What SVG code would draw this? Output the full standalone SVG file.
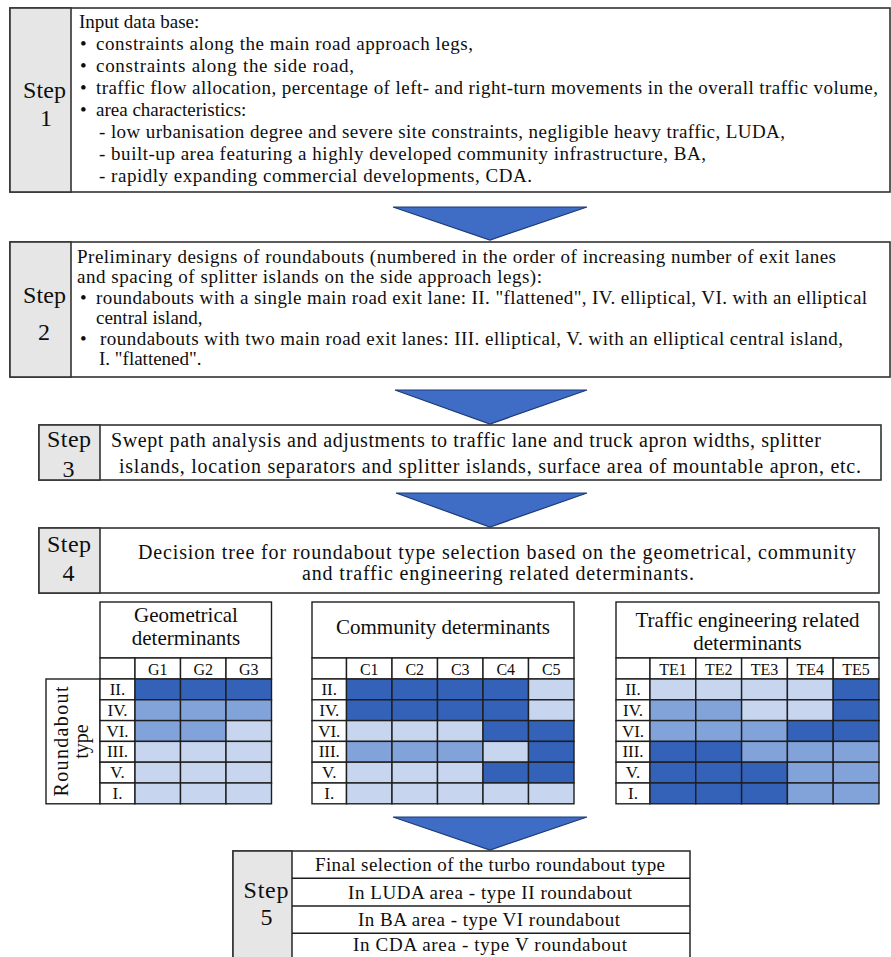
<svg xmlns="http://www.w3.org/2000/svg" width="891" height="957" viewBox="0 0 891 957">
<style>
text{font-family:"Liberation Serif","Times New Roman",serif;fill:#0e0e0e}
.box{fill:#fff;stroke:#333;stroke-width:1.6}
.lbl{fill:#e6e6e6;stroke:#333;stroke-width:1.6}
.st{font-size:24px;text-anchor:middle}
.t19{font-size:19px}
.t20{font-size:20px}
.t21{font-size:21px;text-anchor:middle}
.mid{text-anchor:middle}
.ch{font-size:16px;text-anchor:middle}
.rl{font-size:17px;text-anchor:middle}
.c{stroke:#1e1e1e;stroke-width:1.4}
.w{fill:#fff}
.d{fill:#3462B8}
.m{fill:#82A2DA}
.l{fill:#C7D5EF}
.arr{fill:#3F6CC4;stroke:#1D3A78;stroke-width:1.2;stroke-linejoin:miter}
</style>

<g id="connectors">
<polygon class="arr" points="393,207 587,207 490,240"/>
<polygon class="arr" points="395,390 587,390 490,424"/>
<polygon class="arr" points="396,493 587,493 490,527"/>
<polygon class="arr" points="393,817 587,817 490,850"/>
</g>

<g id="step1">
<rect class="box" x="10" y="8" width="880" height="184"/>
<rect class="lbl" x="10" y="8" width="61" height="184"/>
<text class="st" x="44.5" y="98" textLength="43">Step</text>
<text class="st" x="46" y="126">1</text>
<text class="t19" x="79" y="27.5">Input data base:</text>
<text class="t19" x="80" y="49.5">•</text>
<text class="t19" x="96" y="49.5" textLength="377">constraints along the main road approach legs,</text>
<text class="t19" x="80" y="71.5">•</text>
<text class="t19" x="96" y="71.5" textLength="258">constraints along the side road,</text>
<text class="t19" x="80" y="93.5">•</text>
<text class="t19" x="96" y="93.5" textLength="782">traffic flow allocation, percentage of left- and right-turn movements in the overall traffic volume,</text>
<text class="t19" x="80" y="115.5">•</text>
<text class="t19" x="96" y="115.5">area characteristics:</text>
<text class="t19" x="99" y="137.5" textLength="686">- low urbanisation degree and severe site constraints, negligible heavy traffic, LUDA,</text>
<text class="t19" x="99" y="159.5" textLength="607">- built-up area featuring a highly developed community infrastructure, BA,</text>
<text class="t19" x="99" y="181.5" textLength="433">- rapidly expanding commercial developments, CDA.</text>
</g>

<g id="step2">
<rect class="box" x="10" y="242" width="880" height="135"/>
<rect class="lbl" x="10" y="242" width="61" height="135"/>
<text class="st" x="44.5" y="303" textLength="43">Step</text>
<text class="st" x="44" y="340">2</text>
<text class="t19" x="77" y="262.5" textLength="759">Preliminary designs of roundabouts (numbered in the order of increasing number of exit lanes</text>
<text class="t19" x="77" y="283" textLength="465">and spacing of splitter islands on the side approach legs):</text>
<text class="t19" x="80" y="303.5">•</text>
<text class="t19" x="96" y="303.5" textLength="771">roundabouts with a single main road exit lane: II. "flattened", IV. elliptical, VI. with an elliptical</text>
<text class="t19" x="96" y="324">central island,</text>
<text class="t19" x="80" y="344.5">•</text>
<text class="t19" x="100" y="344.5" textLength="743">roundabouts with two main road exit lanes: III. elliptical, V. with an elliptical central island,</text>
<text class="t19" x="99" y="365">I. "flattened".</text>
</g>

<g id="step3">
<rect class="box" x="39" y="425" width="842" height="55"/>
<rect class="lbl" x="39" y="425" width="61" height="55"/>
<text class="st" x="69" y="447" textLength="44">Step</text>
<text class="st" x="68.5" y="477">3</text>
<text class="t20" x="111" y="446.5" textLength="710">Swept path analysis and adjustments to traffic lane and truck apron widths, splitter</text>
<text class="t20" x="119" y="473" textLength="742">islands, location separators and splitter islands, surface area of mountable apron, etc.</text>
</g>

<g id="step4">
<rect class="box" x="39" y="528" width="840" height="65"/>
<rect class="lbl" x="39" y="528" width="61" height="65"/>
<text class="st" x="69" y="552" textLength="44">Step</text>
<text class="st" x="68.5" y="581">4</text>
<text class="t20 mid" x="497" y="559" textLength="718">Decision tree for roundabout type selection based on the geometrical, community</text>
<text class="t20 mid" x="498" y="580" textLength="392">and traffic engineering related determinants.</text>
</g>

<g id="table-geometrical">
<rect class="c w" x="100" y="602" width="171.5" height="56"/>
<text class="t21" x="186" y="622">Geometrical</text>
<text class="t21" x="186" y="645">determinants</text>
<rect class="c w" x="100" y="658" width="35" height="21"/>
<rect class="c w" x="135" y="658" width="45.5" height="21"/>
<rect class="c w" x="180.5" y="658" width="45.5" height="21"/>
<rect class="c w" x="226" y="658" width="45.5" height="21"/>
<text class="ch" x="157.75" y="674.5">G1</text>
<text class="ch" x="203.25" y="674.5">G2</text>
<text class="ch" x="248.75" y="674.5">G3</text>
<rect class="c w" x="46" y="679" width="54" height="124.8"/>
<text class="t20 mid" transform="translate(68,741.5) rotate(-90)" textLength="110">Roundabout</text>
<text class="t20 mid" transform="translate(88,741.5) rotate(-90)">type</text>
<rect class="c w" x="100" y="679" width="35" height="20.8"/><rect class="c d" x="135" y="679" width="45.5" height="20.8"/><rect class="c d" x="180.5" y="679" width="45.5" height="20.8"/><rect class="c d" x="226" y="679" width="45.5" height="20.8"/>
<rect class="c w" x="100" y="699.8" width="35" height="20.8"/><rect class="c m" x="135" y="699.8" width="45.5" height="20.8"/><rect class="c m" x="180.5" y="699.8" width="45.5" height="20.8"/><rect class="c m" x="226" y="699.8" width="45.5" height="20.8"/>
<rect class="c w" x="100" y="720.6" width="35" height="20.8"/><rect class="c m" x="135" y="720.6" width="45.5" height="20.8"/><rect class="c m" x="180.5" y="720.6" width="45.5" height="20.8"/><rect class="c l" x="226" y="720.6" width="45.5" height="20.8"/>
<rect class="c w" x="100" y="741.4" width="35" height="20.8"/><rect class="c l" x="135" y="741.4" width="45.5" height="20.8"/><rect class="c l" x="180.5" y="741.4" width="45.5" height="20.8"/><rect class="c l" x="226" y="741.4" width="45.5" height="20.8"/>
<rect class="c w" x="100" y="762.2" width="35" height="20.8"/><rect class="c l" x="135" y="762.2" width="45.5" height="20.8"/><rect class="c l" x="180.5" y="762.2" width="45.5" height="20.8"/><rect class="c l" x="226" y="762.2" width="45.5" height="20.8"/>
<rect class="c w" x="100" y="783" width="35" height="20.8"/><rect class="c l" x="135" y="783" width="45.5" height="20.8"/><rect class="c l" x="180.5" y="783" width="45.5" height="20.8"/><rect class="c l" x="226" y="783" width="45.5" height="20.8"/>
<text class="rl" x="117.5" y="695">II.</text>
<text class="rl" x="117.5" y="715.8">IV.</text>
<text class="rl" x="117.5" y="736.6">VI.</text>
<text class="rl" x="117.5" y="757.4">III.</text>
<text class="rl" x="117.5" y="778.2">V.</text>
<text class="rl" x="117.5" y="799">I.</text>
</g>

<g id="table-community">
<rect class="c w" x="312" y="602" width="262" height="56"/>
<text class="t21" x="443" y="634">Community determinants</text>
<rect class="c w" x="312" y="658" width="34.5" height="21"/>
<rect class="c w" x="346.5" y="658" width="45.5" height="21"/>
<rect class="c w" x="392" y="658" width="45.5" height="21"/>
<rect class="c w" x="437.5" y="658" width="45.5" height="21"/>
<rect class="c w" x="483" y="658" width="45.5" height="21"/>
<rect class="c w" x="528.5" y="658" width="45.5" height="21"/>
<text class="ch" x="369.25" y="674.5">C1</text>
<text class="ch" x="414.75" y="674.5">C2</text>
<text class="ch" x="460.25" y="674.5">C3</text>
<text class="ch" x="505.75" y="674.5">C4</text>
<text class="ch" x="551.25" y="674.5">C5</text>
<rect class="c w" x="312" y="679" width="34.5" height="20.8"/><rect class="c d" x="346.5" y="679" width="45.5" height="20.8"/><rect class="c d" x="392" y="679" width="45.5" height="20.8"/><rect class="c d" x="437.5" y="679" width="45.5" height="20.8"/><rect class="c d" x="483" y="679" width="45.5" height="20.8"/><rect class="c l" x="528.5" y="679" width="45.5" height="20.8"/>
<rect class="c w" x="312" y="699.8" width="34.5" height="20.8"/><rect class="c d" x="346.5" y="699.8" width="45.5" height="20.8"/><rect class="c d" x="392" y="699.8" width="45.5" height="20.8"/><rect class="c d" x="437.5" y="699.8" width="45.5" height="20.8"/><rect class="c d" x="483" y="699.8" width="45.5" height="20.8"/><rect class="c l" x="528.5" y="699.8" width="45.5" height="20.8"/>
<rect class="c w" x="312" y="720.6" width="34.5" height="20.8"/><rect class="c l" x="346.5" y="720.6" width="45.5" height="20.8"/><rect class="c l" x="392" y="720.6" width="45.5" height="20.8"/><rect class="c l" x="437.5" y="720.6" width="45.5" height="20.8"/><rect class="c d" x="483" y="720.6" width="45.5" height="20.8"/><rect class="c d" x="528.5" y="720.6" width="45.5" height="20.8"/>
<rect class="c w" x="312" y="741.4" width="34.5" height="20.8"/><rect class="c m" x="346.5" y="741.4" width="45.5" height="20.8"/><rect class="c m" x="392" y="741.4" width="45.5" height="20.8"/><rect class="c m" x="437.5" y="741.4" width="45.5" height="20.8"/><rect class="c l" x="483" y="741.4" width="45.5" height="20.8"/><rect class="c d" x="528.5" y="741.4" width="45.5" height="20.8"/>
<rect class="c w" x="312" y="762.2" width="34.5" height="20.8"/><rect class="c l" x="346.5" y="762.2" width="45.5" height="20.8"/><rect class="c l" x="392" y="762.2" width="45.5" height="20.8"/><rect class="c l" x="437.5" y="762.2" width="45.5" height="20.8"/><rect class="c d" x="483" y="762.2" width="45.5" height="20.8"/><rect class="c d" x="528.5" y="762.2" width="45.5" height="20.8"/>
<rect class="c w" x="312" y="783" width="34.5" height="20.8"/><rect class="c l" x="346.5" y="783" width="45.5" height="20.8"/><rect class="c l" x="392" y="783" width="45.5" height="20.8"/><rect class="c l" x="437.5" y="783" width="45.5" height="20.8"/><rect class="c l" x="483" y="783" width="45.5" height="20.8"/><rect class="c l" x="528.5" y="783" width="45.5" height="20.8"/>
<text class="rl" x="329.25" y="695">II.</text>
<text class="rl" x="329.25" y="715.8">IV.</text>
<text class="rl" x="329.25" y="736.6">VI.</text>
<text class="rl" x="329.25" y="757.4">III.</text>
<text class="rl" x="329.25" y="778.2">V.</text>
<text class="rl" x="329.25" y="799">I.</text>
</g>

<g id="table-traffic">
<rect class="c w" x="616" y="602" width="263" height="56"/>
<text class="t21" x="747.5" y="627">Traffic engineering related</text>
<text class="t21" x="747.5" y="650">determinants</text>
<rect class="c w" x="616" y="658" width="34" height="21"/>
<rect class="c w" x="650" y="658" width="45.8" height="21"/>
<rect class="c w" x="695.8" y="658" width="45.8" height="21"/>
<rect class="c w" x="741.6" y="658" width="45.8" height="21"/>
<rect class="c w" x="787.4" y="658" width="45.8" height="21"/>
<rect class="c w" x="833.2" y="658" width="45.8" height="21"/>
<text class="ch" x="672.9" y="674.5">TE1</text>
<text class="ch" x="718.7" y="674.5">TE2</text>
<text class="ch" x="764.5" y="674.5">TE3</text>
<text class="ch" x="810.3" y="674.5">TE4</text>
<text class="ch" x="856.1" y="674.5">TE5</text>
<rect class="c w" x="616" y="679" width="34" height="20.8"/><rect class="c l" x="650" y="679" width="45.8" height="20.8"/><rect class="c l" x="695.8" y="679" width="45.8" height="20.8"/><rect class="c l" x="741.6" y="679" width="45.8" height="20.8"/><rect class="c l" x="787.4" y="679" width="45.8" height="20.8"/><rect class="c d" x="833.2" y="679" width="45.8" height="20.8"/>
<rect class="c w" x="616" y="699.8" width="34" height="20.8"/><rect class="c m" x="650" y="699.8" width="45.8" height="20.8"/><rect class="c m" x="695.8" y="699.8" width="45.8" height="20.8"/><rect class="c l" x="741.6" y="699.8" width="45.8" height="20.8"/><rect class="c l" x="787.4" y="699.8" width="45.8" height="20.8"/><rect class="c d" x="833.2" y="699.8" width="45.8" height="20.8"/>
<rect class="c w" x="616" y="720.6" width="34" height="20.8"/><rect class="c m" x="650" y="720.6" width="45.8" height="20.8"/><rect class="c m" x="695.8" y="720.6" width="45.8" height="20.8"/><rect class="c m" x="741.6" y="720.6" width="45.8" height="20.8"/><rect class="c d" x="787.4" y="720.6" width="45.8" height="20.8"/><rect class="c d" x="833.2" y="720.6" width="45.8" height="20.8"/>
<rect class="c w" x="616" y="741.4" width="34" height="20.8"/><rect class="c d" x="650" y="741.4" width="45.8" height="20.8"/><rect class="c d" x="695.8" y="741.4" width="45.8" height="20.8"/><rect class="c m" x="741.6" y="741.4" width="45.8" height="20.8"/><rect class="c m" x="787.4" y="741.4" width="45.8" height="20.8"/><rect class="c m" x="833.2" y="741.4" width="45.8" height="20.8"/>
<rect class="c w" x="616" y="762.2" width="34" height="20.8"/><rect class="c d" x="650" y="762.2" width="45.8" height="20.8"/><rect class="c d" x="695.8" y="762.2" width="45.8" height="20.8"/><rect class="c d" x="741.6" y="762.2" width="45.8" height="20.8"/><rect class="c m" x="787.4" y="762.2" width="45.8" height="20.8"/><rect class="c m" x="833.2" y="762.2" width="45.8" height="20.8"/>
<rect class="c w" x="616" y="783" width="34" height="20.8"/><rect class="c d" x="650" y="783" width="45.8" height="20.8"/><rect class="c d" x="695.8" y="783" width="45.8" height="20.8"/><rect class="c d" x="741.6" y="783" width="45.8" height="20.8"/><rect class="c m" x="787.4" y="783" width="45.8" height="20.8"/><rect class="c m" x="833.2" y="783" width="45.8" height="20.8"/>
<text class="rl" x="633" y="695">II.</text>
<text class="rl" x="633" y="715.8">IV.</text>
<text class="rl" x="633" y="736.6">VI.</text>
<text class="rl" x="633" y="757.4">III.</text>
<text class="rl" x="633" y="778.2">V.</text>
<text class="rl" x="633" y="799">I.</text>
</g>

<g id="step5">
<rect class="box" x="233" y="851" width="457" height="110"/>
<rect class="lbl" x="233" y="851" width="59" height="110"/>
<line class="c" x1="292" y1="878.3" x2="690" y2="878.3"/>
<line class="c" x1="292" y1="906" x2="690" y2="906"/>
<line class="c" x1="292" y1="933.3" x2="690" y2="933.3"/>
<text class="st" x="266" y="898" textLength="45">Step</text>
<text class="st" x="266.5" y="925">5</text>
<text class="t19 mid" x="490" y="871" textLength="350">Final selection of the turbo roundabout type</text>
<text class="t19 mid" x="490" y="898.5" textLength="284">In LUDA area - type II roundabout</text>
<text class="t19 mid" x="489" y="926" textLength="262">In BA area - type VI roundabout</text>
<text class="t19 mid" x="490" y="951" textLength="274">In CDA area - type V roundabout</text>
</g>
</svg>
